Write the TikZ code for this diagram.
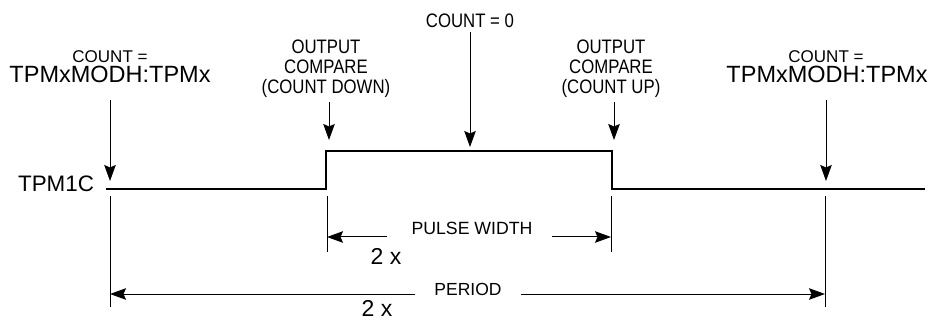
\documentclass[tikz,border=0pt]{standalone}
\usepackage{fontspec}
\setmainfont{Liberation Sans}
\newfontfamily\narrowfont[FakeStretch=0.86]{Liberation Sans}
\usetikzlibrary{arrows.meta}
\begin{document}
\begin{tikzpicture}[x=1pt,y=-1pt,
  txt/.style={inner sep=0pt,outer sep=0pt},
  thin/.style={line width=1pt},
  sig/.style={line width=2.4pt,line join=miter},
  arr/.style={line width=1pt,-{Stealth[length=16pt,width=11.5pt,inset=2.5pt]}},
  fsmall/.style={font=\fontsize{17}{17}\selectfont},
  fbig/.style={font=\fontsize{23.5}{23.5}\selectfont},
  fnar/.style={font=\narrowfont\fontsize{19.5}{20}\selectfont,align=center},
]
\useasboundingbox (0,0) rectangle (928,320);
% texts
\node[txt,fsmall,anchor=base] (cntA) at (110,62.5) {COUNT =};
\node[txt,fbig,anchor=base] (modA) at (110,83) {TPMxMODH:TPMx};
\node[txt,fnar,anchor=north] (ocd) at (326,40) {OUTPUT\\COMPARE\\(COUNT DOWN)};
\node[txt,fnar,anchor=base] (cnt0) at (470,28) {COUNT = 0};
\node[txt,fnar,anchor=north] (ocu) at (611,40) {OUTPUT\\COMPARE\\(COUNT UP)};
\node[txt,fsmall,anchor=base] (cntB) at (826,62.5) {COUNT =};
\node[txt,fbig,anchor=base] (modB) at (827,83) {TPMxMODH:TPMx};
\node[txt,font=\fontsize{22.4}{22.4}\selectfont,anchor=base east] (tpm) at (94,192) {TPM1C};
\node[txt,font=\fontsize{17.7}{17.7}\selectfont,anchor=base] (pw) at (472,235) {PULSE WIDTH};
\node[txt,font=\fontsize{23}{23}\selectfont,anchor=base] (twoA) at (386,265) {2 x};
\node[txt,font=\fontsize{17.5}{17.5}\selectfont,anchor=base] (per) at (468,295) {PERIOD};
\node[txt,font=\fontsize{23}{23}\selectfont,anchor=base] (twoB) at (377,316.5) {2 x};
% signal
\coordinate (s0) at (106,189);
\coordinate (s1) at (326,189);
\coordinate (s2) at (326,151);
\coordinate (s3) at (612,151);
\coordinate (s4) at (612,189);
\coordinate (s5) at (925,189);
\draw[sig] (s0) -- (s1) -- (s2) -- (s3) -- (s4) -- (s5);
% top arrows
\coordinate (aA) at (110,100); \coordinate (tA) at (110,181);
\coordinate (aD) at (329,102); \coordinate (tD) at (329,140);
\coordinate (a0) at (470,32);  \coordinate (t0) at (470,147);
\coordinate (aU) at (614,102); \coordinate (tU) at (614,140);
\coordinate (aB) at (826,100); \coordinate (tB) at (826,181);
\draw[arr] (aA) -- (tA);
\draw[arr] (aD) -- (tD);
\draw[arr] (a0) -- (t0);
\draw[arr] (aU) -- (tU);
\draw[arr] (aB) -- (tB);
% extension lines
\coordinate (eA1) at (110,196); \coordinate (eA2) at (110,307);
\coordinate (eB1) at (825,196); \coordinate (eB2) at (825,307);
\coordinate (eP1) at (327,196); \coordinate (eP2) at (327,252);
\coordinate (eQ1) at (611,196); \coordinate (eQ2) at (611,252);
\draw[thin] (eA1) -- (eA2);
\draw[thin] (eB1) -- (eB2);
\draw[thin] (eP1) -- (eP2);
\draw[thin] (eQ1) -- (eQ2);
% pulse width dimension
\coordinate (pwL) at (387,237); \coordinate (pwLt) at (327,237);
\coordinate (pwR) at (552,237); \coordinate (pwRt) at (611,237);
\draw[arr] (pwL) -- (pwLt);
\draw[arr] (pwR) -- (pwRt);
% period dimension
\coordinate (peL) at (415,294); \coordinate (peLt) at (110,294);
\coordinate (peR) at (521,294); \coordinate (peRt) at (825,294);
\draw[arr] (peL) -- (peLt);
\draw[arr] (peR) -- (peRt);
\end{tikzpicture}
\end{document}
